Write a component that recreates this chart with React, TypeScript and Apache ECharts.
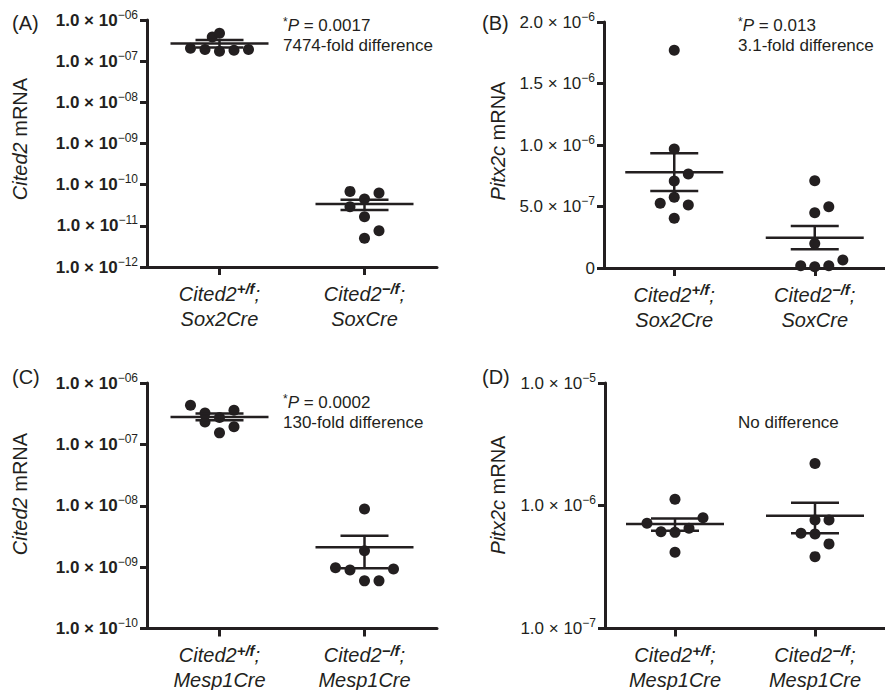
import React, { useEffect, useRef } from "react";
import * as echarts from "echarts";

const FONT = "'Liberation Sans', Arial, Helvetica, sans-serif";
const INK = "#231f20";

// Category positions and labels
const xCenters = [1, 2];
const genotypes = ["+/f", "−/f"];
const creTop = ["Sox2Cre", "SoxCre"];
const creBottom = ["Mesp1Cre", "Mesp1Cre"];

// Panel A: Cited2 mRNA (Sox2Cre), log scale
const aWtX = [0.8, 0.9, 1.0, 1.1, 1.2, 0.95, 1.0];
const aWtY = [2.07e-7, 1.93e-7, 1.75e-7, 1.85e-7, 1.93e-7, 3.85e-7, 4.74e-7];
const aKoX = [1.9, 2.1, 2.0, 1.9, 2.0, 2.1, 2.0];
const aKoY = [6.87e-11, 6.27e-11, 4.48e-11, 2.9e-11, 1.66e-11, 7.55e-12, 5.0e-12];
const aMean = [2.7e-7, 3.38e-11];
const aLow = [2.15e-7, 2.41e-11];
const aHigh = [3.25e-7, 4.3e-11];

// Panel B: Pitx2c mRNA (Sox2Cre), linear scale
const bWtX = [1.0, 1.0, 1.1, 1.0, 1.0, 0.9, 1.1, 1.0];
const bWtY = [1.77e-6, 0.967e-6, 0.764e-6, 0.707e-6, 0.575e-6, 0.526e-6, 0.512e-6, 0.404e-6];
const bKoX = [2.0, 2.0, 2.1, 2.0, 1.9, 2.0, 2.1, 2.2];
const bKoY = [0.71e-6, 0.45e-6, 0.498e-6, 0.2e-6, 0.019e-6, 0.011e-6, 0.019e-6, 0.065e-6];
const bMean = [0.778e-6, 0.246e-6];
const bLow = [0.626e-6, 0.152e-6];
const bHigh = [0.932e-6, 0.341e-6];

// Panel C: Cited2 mRNA (Mesp1Cre), log scale
const cWtX = [0.8, 0.9, 1.1, 0.9, 1.0, 1.1, 1.0];
const cWtY = [4.34e-7, 3.25e-7, 3.6e-7, 2.32e-7, 2.73e-7, 1.93e-7, 1.54e-7];
const cKoX = [2.0, 2.0, 1.8, 1.9, 2.2, 2.0, 2.1];
const cKoY = [8.84e-9, 1.85e-9, 9.8e-10, 9.0e-10, 9.3e-10, 5.97e-10, 5.97e-10];
const cMean = [2.8e-7, 2.1e-9];
const cLow = [2.47e-7, 9.6e-10];
const cHigh = [3.18e-7, 3.25e-9];

// Panel D: Pitx2c mRNA (Mesp1Cre), log scale
const dWtX = [1.0, 0.8, 1.2, 0.9, 1.0, 1.1, 1.0];
const dWtY = [1.13e-6, 7.19e-7, 7.98e-7, 6.15e-7, 6.07e-7, 6.55e-7, 4.18e-7];
const dKoX = [2.0, 2.0, 2.1, 1.9, 2.0, 2.1, 2.0];
const dKoY = [2.21e-6, 7.65e-7, 7.65e-7, 5.96e-7, 5.89e-7, 4.89e-7, 3.85e-7];
const dMean = [7.1e-7, 8.3e-7];
const dLow = [6.27e-7, 5.96e-7];
const dHigh = [7.89e-7, 1.06e-6];

const zip = (xs: number[], ys: number[]) => xs.map((x, i) => [x, ys[i]]);

const errRender = (params: any, api: any) => {
  const x = api.value(0);
  const m = api.value(1);
  const lo = api.value(2);
  const hi = api.value(3);
  const c = api.coord([x, m]);
  const l = api.coord([x, lo]);
  const h = api.coord([x, hi]);
  const st = { stroke: INK, lineWidth: 2.5 };
  const ln = (x1: number, y1: number, x2: number, y2: number) => ({
    type: "line",
    shape: { x1, y1, x2, y2 },
    style: st,
  });
  return {
    type: "group",
    children: [
      ln(c[0] - 49, c[1], c[0] + 49, c[1]),
      ln(c[0] - 24, h[1], c[0] + 24, h[1]),
      ln(c[0] - 24, l[1], c[0] + 24, l[1]),
      ln(c[0], h[1], c[0], l[1]),
    ],
  };
};

const supMinus = "−";

function makeX(gridIndex: number, cre: string[]) {
  return {
    type: "value",
    gridIndex,
    min: 0.5,
    max: 2.5,
    axisLine: { show: true, onZero: false, lineStyle: { color: INK, width: 3 } },
    axisTick: {
      show: true,
      customValues: xCenters,
      length: 8,
      lineStyle: { color: INK, width: 3 },
    },
    splitLine: { show: false },
    axisLabel: {
      customValues: xCenters,
      margin: 14,
      formatter: (v: number) => {
        const i = Math.round(v) - 1;
        return `{it|Cited2}{sup|${genotypes[i]}}{it|;}\n{it|${cre[i]}}`;
      },
      rich: {
        it: { fontFamily: FONT, fontStyle: "italic", fontSize: 20, color: INK, lineHeight: 25 },
        sup: {
          fontFamily: FONT,
          fontStyle: "italic",
          fontWeight: "bold",
          fontSize: 15,
          color: INK,
          padding: [0, 0, 10, 0],
          lineHeight: 25,
        },
      },
    },
  };
}

function logLabel(pad: boolean) {
  return (v: number) => {
    const e = Math.round(Math.log10(v));
    const digits = pad ? String(-e).padStart(2, "0") : String(-e);
    return `{m|1.0 × 10}{e|${supMinus}${digits}}`;
  };
}

function makeRich(bold: boolean) {
  return {
    m: { fontFamily: FONT, fontSize: 17, fontWeight: bold ? "bold" : "normal", color: INK },
    e: { fontFamily: FONT, fontSize: 12, color: INK, padding: [0, 0, 11, 0] },
  };
}

function makeYLog(gridIndex: number, min: number, max: number, pad: boolean, bold: boolean) {
  return {
    type: "log",
    logBase: 10,
    gridIndex,
    min,
    max,
    interval: 1,
    axisLine: { show: true, lineStyle: { color: INK, width: 3 } },
    axisTick: { show: true, length: 7, lineStyle: { color: INK, width: 3 } },
    splitLine: { show: false },
    minorTick: { show: false },
    axisLabel: { margin: 9, formatter: logLabel(pad), rich: makeRich(bold) },
  };
}

const yAxisB = {
  type: "value",
  gridIndex: 1,
  min: 0,
  max: 2e-6,
  interval: 5e-7,
  axisLine: { show: true, lineStyle: { color: INK, width: 3 } },
  axisTick: { show: true, length: 7, lineStyle: { color: INK, width: 3 } },
  splitLine: { show: false },
  axisLabel: {
    margin: 9,
    formatter: (v: number) => {
      if (v === 0) return "{m|0}";
      const e = Math.floor(Math.log10(v) + 1e-9);
      const man = (v / Math.pow(10, e)).toFixed(1);
      return `{m|${man} × 10}{e|${supMinus}${-e}}`;
    },
    rich: makeRich(false),
  },
};

function panelSeries(idx: number, wx: number[], wy: number[], kx: number[], ky: number[], mean: number[], lo: number[], hi: number[]) {
  const scat = (d: number[][]) => ({
    type: "scatter",
    xAxisIndex: idx,
    yAxisIndex: idx,
    data: d,
    symbol: "circle",
    symbolSize: 11,
    itemStyle: { color: INK, opacity: 1 },
    z: 2,
  });
  return [
    scat(zip(wx, wy)),
    scat(zip(kx, ky)),
    {
      type: "custom",
      xAxisIndex: idx,
      yAxisIndex: idx,
      renderItem: errRender,
      encode: { x: 0, y: 1 },
      data: mean.map((m, i) => [xCenters[i], m, lo[i], hi[i]]),
      z: 3,
    },
  ];
}

function txt(x: number, y: number, text: string, opts: any = {}) {
  return {
    type: "text",
    x,
    y,
    rotation: opts.rotation || 0,
    style: {
      text,
      fill: INK,
      fontFamily: FONT,
      fontSize: opts.fontSize || 17,
      align: opts.align || "left",
      verticalAlign: "middle",
      rich: opts.rich,
    },
  };
}

const annRich = {
  s: { fontFamily: FONT, fontSize: 12, fill: INK, padding: [0, 0, 6, 0] },
  p: { fontFamily: FONT, fontSize: 17, fontStyle: "italic", fill: INK },
  n: { fontFamily: FONT, fontSize: 17, fill: INK },
};
const titleRich = {
  i: { fontFamily: FONT, fontSize: 20, fontStyle: "italic", fill: INK },
  n: { fontFamily: FONT, fontSize: 20, fill: INK },
};

export default function App() {
  const ref = useRef<HTMLDivElement>(null);
  useEffect(() => {
    if (!ref.current) return;
    const chart = echarts.init(ref.current, undefined, { renderer: "svg" });
    chart.setOption({
      animation: false,
      backgroundColor: "#ffffff",
      grid: [
        { left: 147, top: 20, width: 290, height: 247 },
        { left: 604, top: 22, width: 290, height: 246 },
        { left: 147, top: 383, width: 290, height: 246 },
        { left: 605, top: 383, width: 290, height: 246 },
      ],
      xAxis: [makeX(0, creTop), makeX(1, creTop), makeX(2, creBottom), makeX(3, creBottom)],
      yAxis: [
        makeYLog(0, 1e-12, 1e-6, true, true),
        yAxisB,
        makeYLog(2, 1e-10, 1e-6, true, true),
        makeYLog(3, 1e-7, 1e-5, false, false),
      ],
      series: [
        ...panelSeries(0, aWtX, aWtY, aKoX, aKoY, aMean, aLow, aHigh),
        ...panelSeries(1, bWtX, bWtY, bKoX, bKoY, bMean, bLow, bHigh),
        ...panelSeries(2, cWtX, cWtY, cKoX, cKoY, cMean, cLow, cHigh),
        ...panelSeries(3, dWtX, dWtY, dKoX, dKoY, dMean, dLow, dHigh),
      ],
      graphic: [
        txt(12, 23, "(A)", { fontSize: 20 }),
        txt(482, 23, "(B)", { fontSize: 20 }),
        txt(12, 377, "(C)", { fontSize: 20 }),
        txt(482, 377, "(D)", { fontSize: 20 }),
        txt(20, 139, "{i|Cited2}{n| mRNA}", { rotation: Math.PI / 2, align: "center", rich: titleRich }),
        txt(498, 141, "{i|Pitx2c}{n| mRNA}", { rotation: Math.PI / 2, align: "center", rich: titleRich }),
        txt(20, 494, "{i|Cited2}{n| mRNA}", { rotation: Math.PI / 2, align: "center", rich: titleRich }),
        txt(498, 495, "{i|Pitx2c}{n| mRNA}", { rotation: Math.PI / 2, align: "center", rich: titleRich }),
        txt(283, 25, "{s|*}{p|P}{n| = 0.0017}", { rich: annRich }),
        txt(283, 45, "7474-fold difference"),
        txt(738, 25, "{s|*}{p|P}{n| = 0.013}", { rich: annRich }),
        txt(738, 45, "3.1-fold difference"),
        txt(283, 402, "{s|*}{p|P}{n| = 0.0002}", { rich: annRich }),
        txt(283, 422, "130-fold difference"),
        txt(738, 422, "No difference"),
      ],
    });
    return () => chart.dispose();
  }, []);
  return (
    <div
      ref={ref}
      style={{ position: "absolute", left: 0, top: 0, width: 885, height: 690, background: "#fff" }}
    />
  );
}
